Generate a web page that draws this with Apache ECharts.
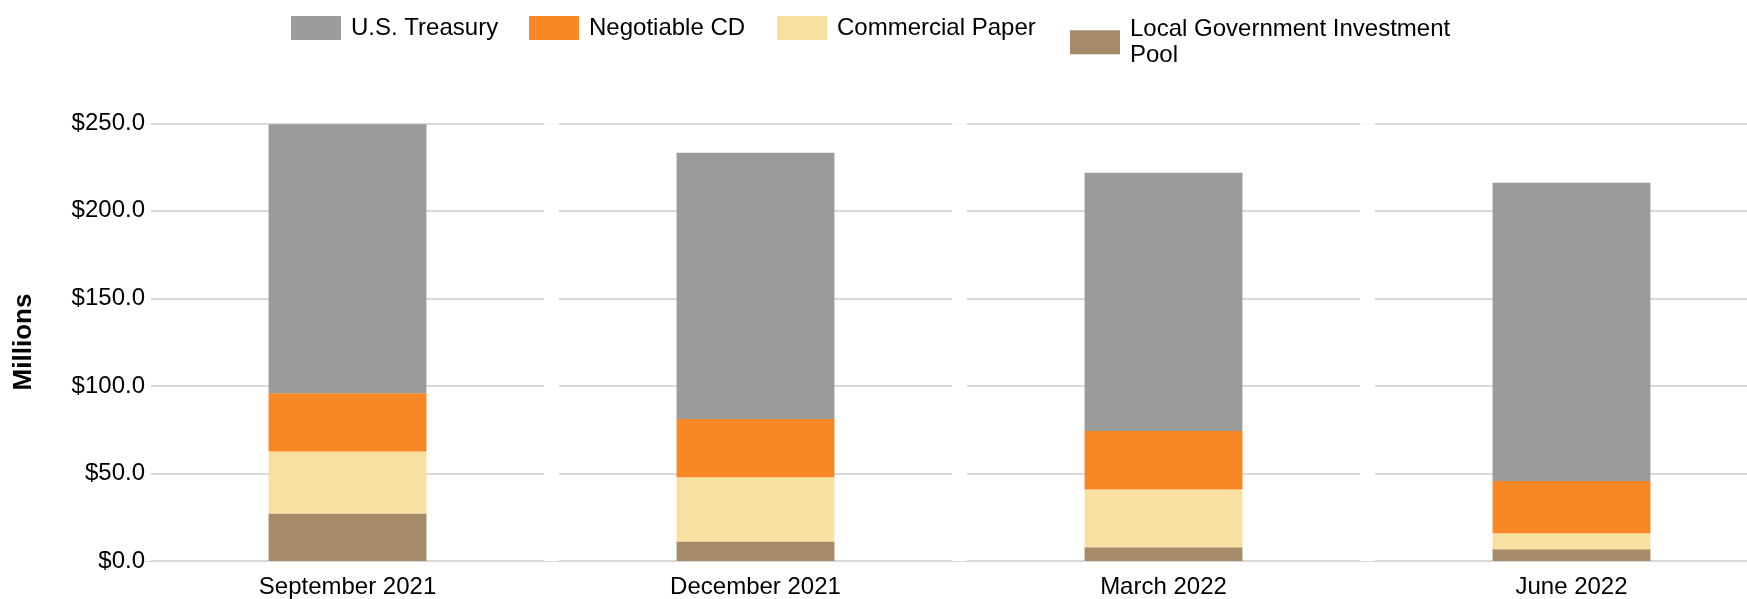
<!DOCTYPE html>
<html>
<head>
<meta charset="utf-8">
<script src="https://cdn.jsdelivr.net/npm/echarts@6/dist/echarts.min.js"></script>
<style>
html,body{margin:0;padding:0;background:#fff;}
#chart{width:1747px;height:599px;}
</style>
</head>
<body>
<div id="chart"></div>
<script>
const categories = ['September 2021', 'December 2021', 'March 2022', 'June 2022'];
const seriesNames = ['U.S. Treasury', 'Negotiable CD', 'Commercial Paper', 'Local Government Investment Pool'];
const treasury = [153.6, 152.1, 147.6, 170.4];
const negotiableCD = [33.2, 33.3, 33.3, 29.9];
const commercialPaper = [35.4, 36.6, 33.1, 9.1];
const lgip = [27.2, 11.2, 7.8, 6.7];
const yTicks = [0, 50, 100, 150, 200, 250];
const colors = {
  'U.S. Treasury': '#9b9b9b',
  'Negotiable CD': '#f88825',
  'Commercial Paper': '#f8e0a0',
  'Local Government Investment Pool': '#a58b68'
};

const FONT = "'Liberation Sans', Arial, sans-serif";

function legendFor(name, left, top, formatter, lh) {
  return {
    data: [name],
    left: left,
    top: top,
    padding: 0,
    itemWidth: 50,
    itemHeight: 24,
    icon: 'rect',
    selectedMode: false,
    formatter: formatter || '{name}',
    textStyle: {
      fontFamily: FONT,
      fontSize: 24,
      color: '#000',
      lineHeight: lh || 24,
      padding: [0, 0, 0, 5]
    }
  };
}

const chart = echarts.init(document.getElementById('chart'), null, {renderer: 'canvas'});

const barSeries = [
  {name: seriesNames[3], data: lgip},
  {name: seriesNames[2], data: commercialPaper},
  {name: seriesNames[1], data: negotiableCD},
  {name: seriesNames[0], data: treasury}
].map(s => ({
  name: s.name,
  type: 'bar',
  stack: 'total',
  data: s.data,
  yAxisIndex: 0,
  barWidth: '38.7%',
  itemStyle: {color: colors[s.name]},
  emphasis: {disabled: true},
  z: 3
}));

const yBase = {
  type: 'value',
  min: yTicks[0],
  max: yTicks[yTicks.length - 1],
  interval: 50,
  position: 'left',
  offset: 0,
  axisLine: {show: false},
  axisTick: {show: false}
};

chart.setOption({
  animation: false,
  backgroundColor: '#ffffff',
  legend: [
    legendFor(seriesNames[0], 291, 16),
    legendFor(seriesNames[1], 529, 16),
    legendFor(seriesNames[2], 777, 16),
    legendFor(seriesNames[3], 1070, 15.7, 'Local Government Investment\nPool', 26.6)
  ],
  grid: {left: 143.5, top: 123.3, width: 1632, height: 437.7, containLabel: false, outerBoundsMode: 'none'},
  xAxis: {
    type: 'category',
    data: categories,
    z: 1,
    axisLine: {show: false},
    axisTick: {show: false},
    splitLine: {show: true, lineStyle: {color: '#ffffff', width: 15}},
    axisLabel: {
      fontFamily: FONT,
      fontSize: 24,
      color: '#000',
      margin: 14
    }
  },
  yAxis: [
    Object.assign({}, yBase, {
      z: 0,
      splitLine: {show: true, lineStyle: {color: '#d9d9d9', width: 2}},
      axisLabel: {show: false}
    }),
    Object.assign({}, yBase, {
      z: 4,
      splitLine: {show: false},
      axisLabel: {
        fontFamily: FONT,
        fontSize: 24,
        color: '#000',
        margin: -1.5,
        formatter: v => '$' + v.toFixed(1)
      }
    })
  ],
  graphic: [{
    type: 'text',
    x: 24,
    y: 342,
    rotation: Math.PI / 2,
    style: {
      text: 'Millions',
      fontFamily: FONT,
      fontSize: 26,
      fontWeight: 'bold',
      fill: '#000',
      align: 'center',
      verticalAlign: 'middle'
    }
  }],
  series: barSeries
});
</script>
</body>
</html>
